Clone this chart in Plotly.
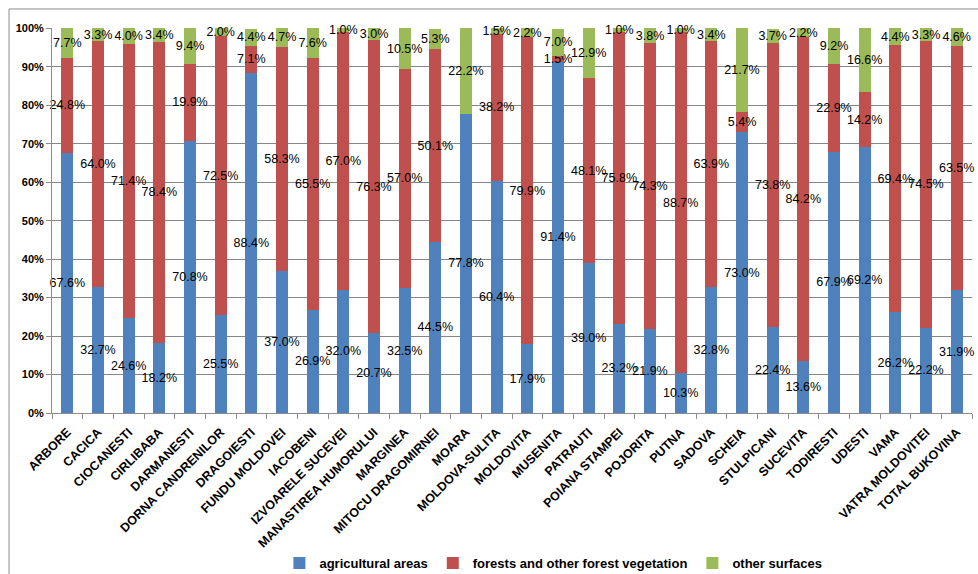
import plotly.graph_objects as go

# Land use structure by commune (share of total area, %)
communes = [
    "ARBORE", "CACICA", "CIOCANESTI", "CIRLIBABA", "DARMANESTI",
    "DORNA CANDRENILOR", "DRAGOIESTI", "FUNDU MOLDOVEI", "IACOBENI",
    "IZVOARELE SUCEVEI", "MANASTIREA HUMORULUI", "MARGINEA",
    "MITOCU DRAGOMIRNEI", "MOARA", "MOLDOVA-SULITA", "MOLDOVITA",
    "MUSENITA", "PATRAUTI", "POIANA STAMPEI", "POJORITA", "PUTNA",
    "SADOVA", "SCHEIA", "STULPICANI", "SUCEVITA", "TODIRESTI", "UDESTI",
    "VAMA", "VATRA MOLDOVITEI", "TOTAL BUKOVINA",
]

agricultural = [
    67.6, 32.7, 24.6, 18.2, 70.8, 25.5, 88.4, 37.0, 26.9, 32.0, 20.7, 32.5,
    44.5, 77.8, 60.4, 17.9, 91.4, 39.0, 23.2, 21.9, 10.3, 32.8, 73.0, 22.4,
    13.6, 67.9, 69.2, 26.2, 22.2, 31.9,
]
forests = [
    24.8, 64.0, 71.4, 78.4, 19.9, 72.5, 7.1, 58.3, 65.5, 67.0, 76.3, 57.0,
    50.1, None, 38.2, 79.9, 1.5, 48.1, 75.8, 74.3, 88.7, 63.9, 5.4, 73.8,
    84.2, 22.9, 14.2, 69.4, 74.5, 63.5,
]
other = [
    7.7, 3.3, 4.0, 3.4, 9.4, 2.0, 4.4, 4.7, 7.6, 1.0, 3.0, 10.5,
    5.3, 22.2, 1.5, 2.2, 7.0, 12.9, 1.0, 3.8, 1.0, 3.4, 21.7, 3.7,
    2.2, 9.2, 16.6, 4.4, 3.3, 4.6,
]

series = [
    ("agricultural areas", agricultural, "#4F81BD"),
    ("forests and other forest vegetation", forests, "#C0504D"),
    ("other surfaces", other, "#9BBB59"),
]

fig = go.Figure()
for name, vals, color in series:
    fig.add_trace(go.Bar(
        name=name,
        x=communes,
        y=vals,
        marker=dict(color=color, line=dict(width=0)),
        text=[f"{v:.1f}%" if v is not None else "" for v in vals],
        textposition="inside",
        insidetextanchor="middle",
        textangle=0,
        constraintext="none",
        cliponaxis=False,
        textfont=dict(family="Liberation Sans, Arial, sans-serif", size=12.5, color="#000000"),
        hoverinfo="skip",
    ))

frame_color = "#8c8c8c"

fig.update_layout(
    barmode="stack",
    bargap=0.6,
    width=978,
    height=574,
    margin=dict(l=52, r=6, t=28, b=161, autoexpand=False),
    paper_bgcolor="#ffffff",
    plot_bgcolor="#ffffff",
    font=dict(family="Liberation Sans, Arial, sans-serif", color="#000000"),
    showlegend=True,
    legend=dict(
        orientation="h",
        traceorder="normal",
        x=0.545, xanchor="center",
        y=-0.39, yanchor="middle",
        font=dict(size=13, weight="bold"),
        itemwidth=30,
        tracegroupgap=0,
    ),
    xaxis=dict(
        type="category",
        automargin=False,
        tickangle=-45,
        tickfont=dict(size=12.5, weight="bold"),
        tickson="boundaries",
        ticks="outside",
        ticklen=5,
        tickcolor=frame_color,
        ticklabelstandoff=6,
        showline=True,
        linecolor=frame_color,
        linewidth=1,
        showgrid=False,
    ),
    yaxis=dict(
        automargin=False,
        # a hair above 100 so rounded shares summing to 100.1 stay inside
        range=[0, 100.12],
        tickvals=list(range(0, 101, 10)),
        ticktext=[f"{v}%" for v in range(0, 101, 10)],
        tickfont=dict(size=11, weight="bold"),
        ticks="outside",
        ticklen=5,
        tickcolor=frame_color,
        showline=True,
        linecolor=frame_color,
        linewidth=1,
        showgrid=True,
        gridcolor="#868686",
        gridwidth=1,
        zeroline=False,
    ),
    shapes=[
        dict(type="line", xref="paper", yref="paper",
             x0=-0.0467, x1=1.1, y0=1.0494, y1=1.0494,
             line=dict(color=frame_color, width=1)),
        dict(type="line", xref="paper", yref="paper",
             x0=-0.0467, x1=-0.0467, y0=-0.5, y1=1.0494,
             line=dict(color=frame_color, width=1)),
    ],
)

fig.write_html("out.html")
